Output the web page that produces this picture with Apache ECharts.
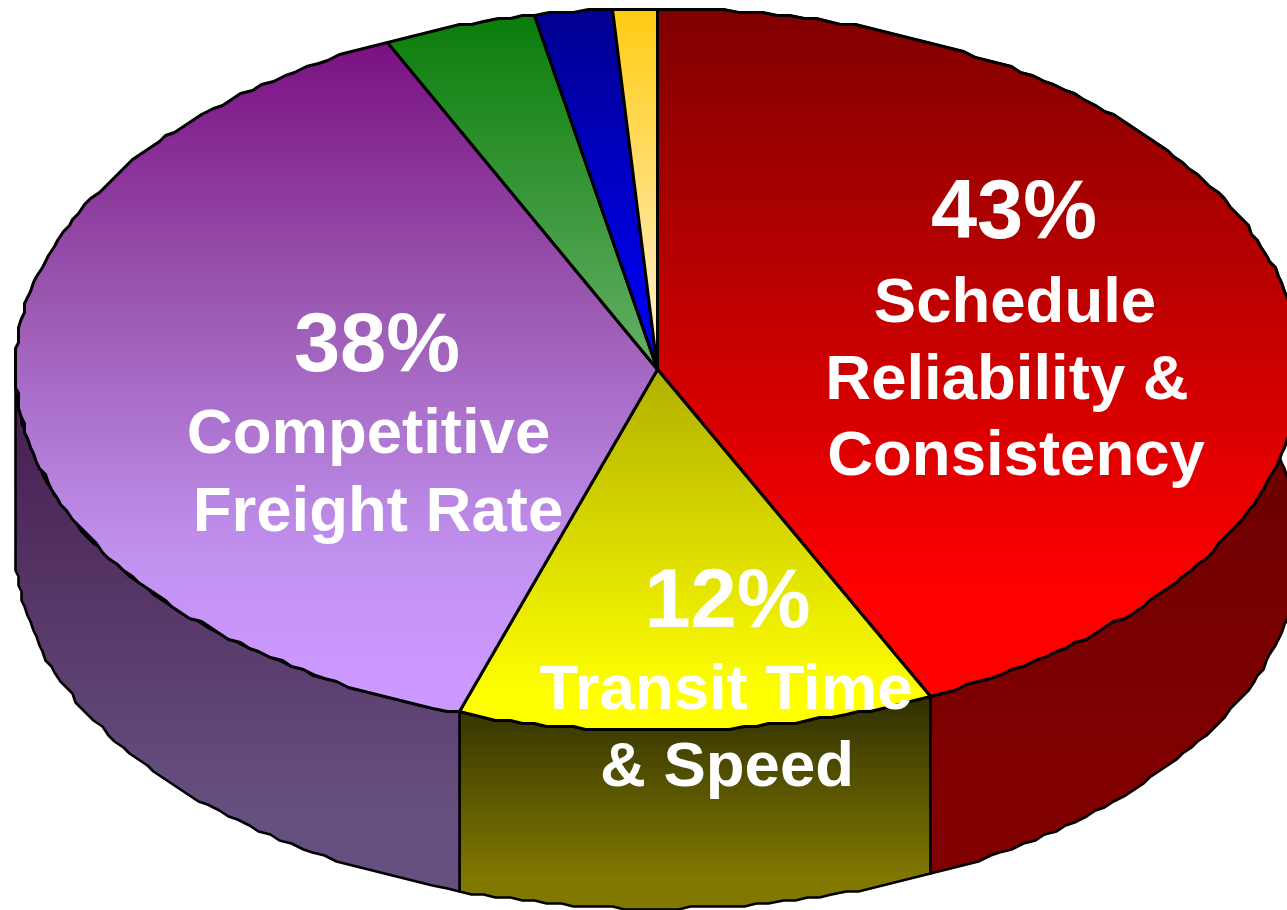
<!DOCTYPE html>
<html>
<head>
<meta charset="utf-8">
<style>html,body{margin:0;padding:0;background:#fff;overflow:hidden}#c{width:1287px;height:910px}</style>
<script src="https://cdn.jsdelivr.net/npm/echarts@6/dist/echarts.min.js"></script>
</head>
<body>
<div id="c"></div>
<script>
const categories = ['Schedule Reliability & Consistency', 'Transit Time & Speed', 'Competitive Freight Rate', 'Other A', 'Other B', 'Other C'];
const shareValues = [43, 12, 38.1, 3.85, 1.95, 1.1];
const topRamps = [
  [[0, '#7f0000'], [0.85, '#ff0000'], [1, '#ff0000']],
  [[0, '#b0b000'], [0.9, '#ffff00'], [1, '#ffff00']],
  [[0, '#7a1082'], [0.385, '#9a58b0'], [0.757, '#c090ee'], [0.95, '#cc99ff'], [1, '#cc99ff']],
  [[0, '#0a7d0a'], [1, '#66b066']],
  [[0, '#000090'], [1, '#0000ff']],
  [[0, '#ffcc11'], [1, '#fff2d8']]
];
const sideRamps = [
  [[0, '#4d0000'], [0.85, '#800000'], [1, '#800000']],
  [[0, '#2f2f00'], [0.85, '#807800'], [1, '#807800']],
  [[0, '#451a4d'], [0.85, '#665080'], [1, '#665080']],
  null, null, null
];
const percentLabels = ['43%', '38%', '12%'];
const nameLines = ['Schedule', 'Reliability &', 'Consistency', 'Competitive', 'Freight Rate', 'Transit Time', '& Speed'];

const total = shareValues.reduce((a, b) => a + b, 0);
const DEPTH = 178 / 361;
const STEP = 1.2 * Math.PI / 180;
const SNAP = 3;
let acc = 0;
const sliceRows = shareValues.map((v, i) => {
  const row = [i, acc / total * Math.PI * 2, (acc + v) / total * Math.PI * 2];
  acc += v;
  return row;
});

function arc(a, b, off) {
  const pts = [];
  const n = Math.max(2, Math.ceil((b - a) / STEP));
  for (let k = 0; k <= n; k++) {
    const t = a + (b - a) * k / n;
    pts.push([Math.sin(t), Math.cos(t) - off]);
  }
  return pts;
}
function outline(api, pts) {
  return pts.map(p => {
    const c = api.coord(p);
    return [Math.round((c[0] - 0.5) / SNAP) * SNAP + 0.5, Math.round((c[1] - 0.5) / SNAP) * SNAP + 0.5];
  });
}
function grad(ramp) {
  return new echarts.graphic.LinearGradient(0, 0, 0, 1, ramp.map(s => ({ offset: s[0], color: s[1] })));
}
function renderSide(params, api) {
  const i = api.value(0);
  if (!sideRamps[i]) return null;
  const a = api.value(1);
  const b = Math.min(api.value(2), Math.PI * 1.5);
  const top = outline(api, arc(a, b, 0));
  const bottom = outline(api, arc(a, b, DEPTH)).reverse();
  return {
    type: 'polygon',
    shape: { points: top.concat(bottom) },
    style: { fill: grad(sideRamps[i]), stroke: '#000', lineWidth: 2.6, lineJoin: 'round' }
  };
}
function renderTop(params, api) {
  const i = api.value(0);
  const pts = [api.coord([0, 0])].concat(outline(api, arc(api.value(1), api.value(2), 0)));
  return {
    type: 'polygon',
    shape: { points: pts },
    style: { fill: grad(topRamps[i]), stroke: '#000', lineWidth: 3, lineJoin: 'round' }
  };
}
const labelFont = 'Liberation Sans, Arial, sans-serif';
function txt(text, x, y, size) {
  return {
    type: 'text', x: x, y: y, z: 100,
    style: { text: text, fill: '#fff', font: 'bold ' + size + 'px ' + labelFont, textAlign: 'center', textVerticalAlign: 'middle' }
  };
}
const chart = echarts.init(document.getElementById('c'), null, { renderer: 'canvas', width: 1287, height: 910 });
chart.setOption({
  animation: false,
  backgroundColor: '#fff',
  grid: { left: 15.5, top: 8.5, width: 1271.5, height: 722 },
  xAxis: { type: 'value', min: -1, max: 0.9805, show: false },
  yAxis: { type: 'value', min: -1, max: 1, show: false },
  series: [
    { type: 'custom', name: 'sides', clip: false, silent: true, renderItem: renderSide, data: sliceRows, z: 1 },
    { type: 'custom', name: 'share of ' + categories.length + ' factors', clip: false, silent: true, renderItem: renderTop, data: sliceRows, z: 2 }
  ],
  graphic: [
    txt(percentLabels[0], 1014, 215, 83),
    txt(nameLines[0], 1015, 304, 63.5),
    txt(nameLines[1], 1007, 381, 63.5),
    txt(nameLines[2], 1016, 457, 63.5),
    txt(percentLabels[1], 377, 348, 83),
    txt(nameLines[3], 368.5, 435, 63.5),
    txt(nameLines[4], 378, 513, 63.5),
    txt(percentLabels[2], 727.5, 604, 83),
    txt(nameLines[5], 726, 691, 63.5),
    txt(nameLines[6], 727, 768, 63.5)
  ]
});
</script>
</body>
</html>
